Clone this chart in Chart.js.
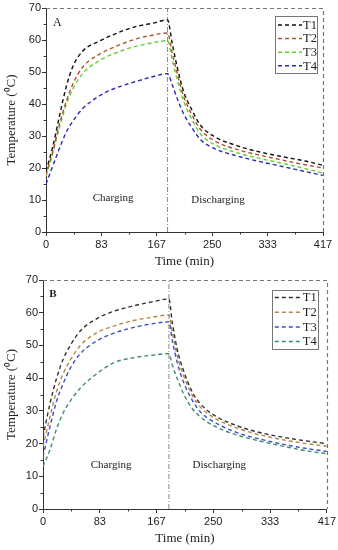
<!DOCTYPE html>
<html>
<head>
<meta charset="utf-8">
<script src="https://cdn.jsdelivr.net/npm/chart.js@4.4.0/dist/chart.umd.min.js"></script>
<style>
    body { margin: 0; background: #fff; }
    canvas { position: absolute; left: 0; }
</style>
</head>
<body>
<canvas id="chartA" width="338" height="270" style="top:0"></canvas>
<canvas id="chartB" width="338" height="280" style="top:270px"></canvas>
<script>
/* ---------- data ---------- */
const seriesNames = ['T1', 'T2', 'T3', 'T4'];
const xTickValues = [0, 83.4, 166.8, 250.2, 333.6, 417];
const xTickLabels = ['0', '83', '167', '250', '333', '417'];
const yTickValues = [0, 10, 20, 30, 40, 50, 60, 70];

// panel A
const switchA = 183;
const timeA = [0, 10, 20, 30, 40, 55, 80, 105, 135, 160, 183, 190, 197, 207, 220, 232, 252, 287, 322, 362, 390, 417];
const t1A = [19, 26.5, 36, 45, 51.5, 56.5, 59.6, 62, 64.2, 65.2, 66.3, 59, 52, 44, 38, 33.5, 30, 27, 25, 23.3, 22.2, 20.8];
const t2A = [18, 25, 33.5, 40.5, 46, 51.5, 55.5, 58, 60.3, 61.5, 62.2, 56, 50, 42.5, 36.5, 32.2, 28.7, 25.8, 24, 22.2, 21, 20];
const t3A = [17.5, 24.5, 32.5, 39.5, 44.5, 49.5, 53.5, 56, 58, 59.1, 59.8, 54, 48, 41, 35, 30.8, 27.5, 24.8, 23, 21.2, 19.8, 18.4];
const t4A = [15, 20.5, 26, 31, 34.5, 38.5, 42.5, 45, 47, 48.5, 49.5, 46, 42, 37, 32.5, 29, 26.2, 23.8, 22, 20.2, 18.9, 17.7];

// panel B
const switchB = 185;
const timeB = [0, 10, 20, 30, 40, 55, 80, 105, 135, 160, 185, 190, 197, 207, 220, 232, 252, 287, 322, 362, 390, 417];
const t1B = [22, 32, 40, 46, 50, 54.5, 58.3, 60.5, 62.2, 63.3, 64.2, 57, 49, 42, 35.5, 32, 28.6, 25.3, 23.2, 21.6, 20.7, 20];
const t2B = [19, 28, 36, 41.5, 45.5, 50, 54, 56, 57.7, 58.6, 59.3, 54, 47, 40.5, 34.5, 31, 27.8, 24.6, 22.5, 20.8, 19.9, 19.2];
const t3B = [16, 25, 33, 38.5, 43, 47.5, 51.5, 53.8, 55.6, 56.6, 57.2, 51.5, 45, 38.5, 33, 29.5, 26.5, 23.2, 21.2, 19.4, 18.4, 17.6];
const t4B = [13, 18, 24.5, 29.5, 33, 37, 41.5, 44.8, 46.3, 47, 47.5, 44, 40, 35, 30.5, 28, 25.3, 22.5, 20.6, 18.8, 17.7, 16.9];

/* ---------- helpers ---------- */
const serif = 'Liberation Serif, Times New Roman, serif';
const sans = 'Liberation Sans, Arial, sans-serif';

function toPoints(times, values) {
    return times.map((t, i) => ({ x: t, y: values[i] }));
}

// dashed top/right frame + minor ticks, through the scales
const frameAndMinor = {
    id: 'frameAndMinor',
    afterDraw(chart) {
        const ctx = chart.ctx;
        const xs = chart.scales.x, ys = chart.scales.y;
        const xr = Math.round(xs.getPixelForValue(xs.max)) + 0.5;
        const yt = Math.round(ys.getPixelForValue(ys.max)) + 0.5;
        const xl = xs.getPixelForValue(xs.min);
        const yb = ys.getPixelForValue(ys.min);
        ctx.save();
        ctx.strokeStyle = '#777';
        ctx.lineWidth = 1.2;
        ctx.setLineDash([4, 3]);
        ctx.beginPath();
        ctx.moveTo(xl, yt);
        ctx.lineTo(xr, yt);
        ctx.lineTo(xr, yb);
        ctx.stroke();
        ctx.setLineDash([]);

        ctx.strokeStyle = '#333';
        ctx.lineWidth = 1;
        ctx.beginPath();
        for (let i = 0; i < xTickValues.length - 1; i++) {
            const px = Math.round(xs.getPixelForValue((xTickValues[i] + xTickValues[i + 1]) / 2)) + 0.5;
            ctx.moveTo(px, xs.top);
            ctx.lineTo(px, xs.top + 2.5);
        }
        for (let i = 0; i < yTickValues.length - 1; i++) {
            const py = Math.round(ys.getPixelForValue((yTickValues[i] + yTickValues[i + 1]) / 2)) + 0.5;
            ctx.moveTo(ys.right, py);
            ctx.lineTo(ys.right - 2.5, py);
        }
        ctx.stroke();
        ctx.restore();
    }
};

// panel letter, Charging / Discharging
const panelTexts = {
    id: 'panelTexts',
    afterDatasetsDraw(chart, args, opts) {
        const ctx = chart.ctx;
        const xs = chart.scales.x, ys = chart.scales.y;
        ctx.save();
        ctx.fillStyle = '#222';
        ctx.textAlign = 'center';
        ctx.textBaseline = 'middle';
        opts.items.forEach(it => {
            ctx.font = it.font;
            ctx.fillText(it.text, xs.getPixelForValue(it.x), ys.getPixelForValue(it.y));
        });
        ctx.restore();
    }
};

// legend box with dashed samples
const boxLegend = {
    id: 'boxLegend',
    afterDraw(chart, args, opts) {
        const ctx = chart.ctx;
        const area = chart.chartArea;
        const left = area.right - opts.right - opts.width;
        const top = area.top + opts.top;
        ctx.save();
        ctx.strokeStyle = '#777';
        ctx.lineWidth = 1;
        ctx.fillStyle = '#fff';
        ctx.fillRect(left, top, opts.width, opts.height);
        ctx.strokeRect(Math.round(left) + 0.5, Math.round(top) + 0.5, opts.width, opts.height);
        ctx.font = '12.5px ' + serif;
        ctx.textBaseline = 'middle';
        ctx.textAlign = 'left';
        chart.data.datasets.forEach((ds, i) => {
            if (!ds.label) return;
            const y = top + opts.first + i * opts.gap;
            ctx.strokeStyle = ds.borderColor;
            ctx.lineWidth = 1.5;
            ctx.setLineDash([4, 3]);
            ctx.beginPath();
            ctx.moveTo(left + 3, y);
            ctx.lineTo(left + 3 + opts.line, y);
            ctx.stroke();
            ctx.setLineDash([]);
            ctx.fillStyle = '#222';
            ctx.fillText(ds.label, left + opts.textX, y + 0.5);
        });
        ctx.restore();
    }
};

function makeChart(canvasId, p) {
    const datasets = p.series.map((vals, i) => ({
        label: seriesNames[i],
        data: toPoints(p.times, vals),
        borderColor: p.colors[i],
        borderWidth: 1.4,
        borderDash: [4, 3],
        pointRadius: 0,
        cubicInterpolationMode: 'monotone',
        fill: false
    }));
    datasets.push({
        label: '',
        data: [{ x: p.switchTime, y: 0 }, { x: p.switchTime, y: 70 }],
        borderColor: '#888',
        borderWidth: 1,
        borderDash: [5, 2, 1, 2],
        pointRadius: 0
    });

    return new Chart(document.getElementById(canvasId), {
        type: 'line',
        data: { datasets },
        plugins: [frameAndMinor, panelTexts, boxLegend],
        options: {
            responsive: false,
            animation: false,
            layout: { padding: { top: p.padTop, right: p.padRight, left: 0, bottom: 0 } },
            plugins: {
                legend: { display: false },
                tooltip: { enabled: false },
                panelTexts: { items: p.texts },
                boxLegend: p.legend
            },
            scales: {
                x: {
                    type: 'linear', position: 'bottom', min: 0, max: 417,
                    afterBuildTicks: s => { s.ticks = xTickValues.map(v => ({ value: v })); },
                    afterFit: s => { s.height = p.xAxisHeight; },
                    ticks: {
                        callback: (v, i) => xTickLabels[i],
                        font: { family: sans, size: 11 }, color: '#222', padding: 2, maxRotation: 0
                    },
                    grid: { drawOnChartArea: false, tickLength: 4, color: '#333' },
                    border: { color: '#333', width: 1 },
                    title: {
                        display: true, text: 'Time (min)', color: '#222',
                        font: { family: serif, size: 13 }, padding: { top: 0, bottom: p.xTitlePad }
                    }
                },
                y: {
                    type: 'linear', position: 'left', min: 0, max: 70,
                    afterBuildTicks: s => { s.ticks = yTickValues.map(v => ({ value: v })); },
                    afterFit: s => { s.width = p.yAxisWidth; },
                    ticks: { font: { family: sans, size: 11 }, color: '#222', padding: 1 },
                    grid: { drawOnChartArea: false, tickLength: 4, color: '#333' },
                    border: { color: '#333', width: 1 },
                    title: {
                        display: true, text: 'Temperature (⁰C)', color: '#222',
                        font: { family: serif, size: 13 }, padding: { top: 4, bottom: 0 }
                    }
                }
            }
        }
    });
}

/* ---------- panels ---------- */
makeChart('chartA', {
    times: timeA,
    series: [t1A, t2A, t3A, t4A],
    colors: ['#111111', '#b0502e', '#66cc33', '#2a2ab8'],
    switchTime: switchA,
    padTop: 8, padRight: 15, xAxisHeight: 38, yAxisWidth: 46, xTitlePad: 1,
    texts: [
        { text: 'A', x: 17, y: 65.3, font: '12px ' + serif },
        { text: 'Charging', x: 101, y: 10.7, font: '11px ' + serif },
        { text: 'Discharging', x: 259, y: 10, font: '11px ' + serif }
    ],
    legend: { right: 6, top: 8, width: 42, height: 57, first: 9, gap: 13.6, line: 24, textX: 28 }
});

makeChart('chartB', {
    times: timeB,
    series: [t1B, t2B, t3B, t4B],
    colors: ['#333333', '#b8864a', '#3a4fc8', '#3f8a6e'],
    switchTime: switchB,
    padTop: 10, padRight: 10, xAxisHeight: 41, yAxisWidth: 43, xTitlePad: 4,
    texts: [
        { text: 'B', x: 14.7, y: 65.6, font: 'bold 11px ' + serif },
        { text: 'Charging', x: 100, y: 13.4, font: '11px ' + serif },
        { text: 'Discharging', x: 259, y: 13.4, font: '11px ' + serif }
    ],
    legend: { right: 9, top: 10, width: 46, height: 59, first: 7.5, gap: 14.7, line: 27, textX: 31 }
});
</script>
</body>
</html>
